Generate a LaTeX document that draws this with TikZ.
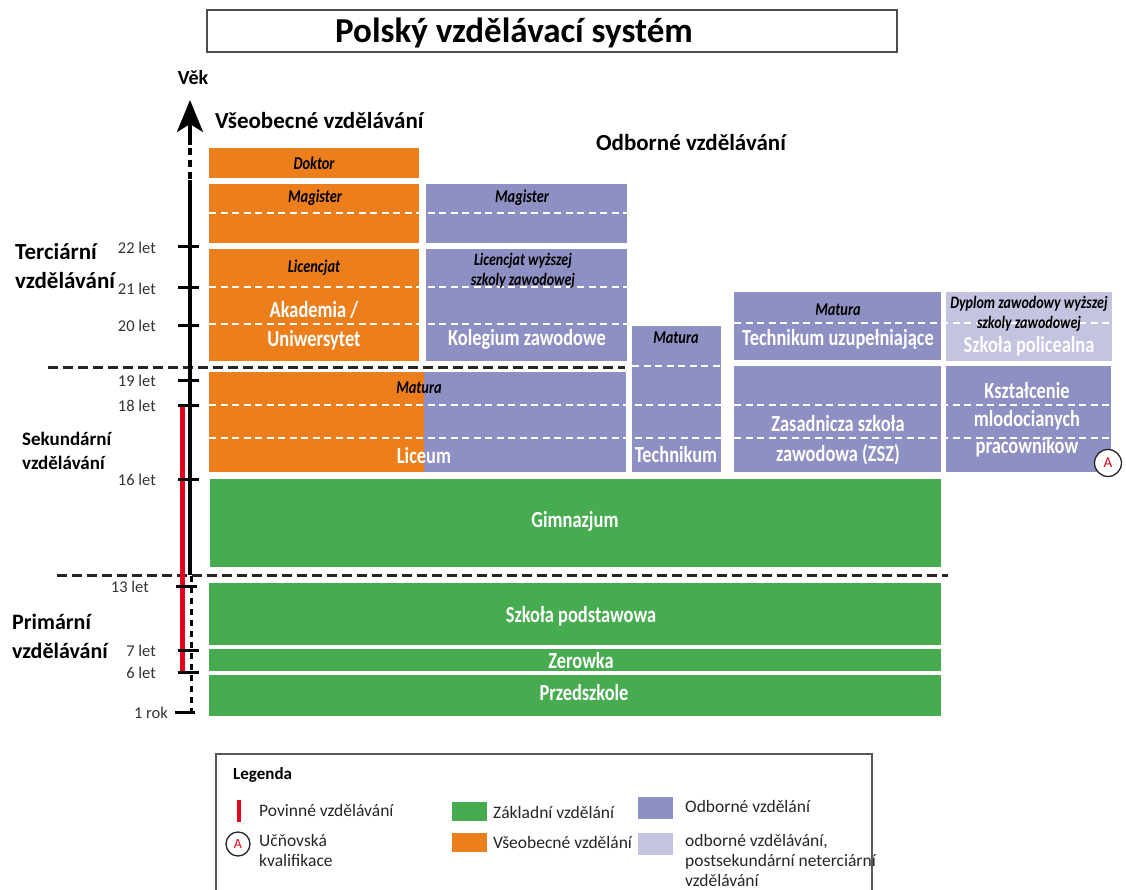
\documentclass[tikz,border=0pt]{standalone}
\usepackage{fontspec}
\setmainfont{Carlito}
\newfontfamily\cond[FakeStretch=0.8]{Carlito}
\newfontfamily\condi[FakeStretch=0.8]{Carlito}
\usetikzlibrary{arrows.meta}
\definecolor{ora}{RGB}{236,127,28}
\definecolor{pur}{RGB}{142,143,194}
\definecolor{lpur}{RGB}{196,196,225}
\definecolor{grn}{RGB}{71,171,79}
\definecolor{redc}{RGB}{226,0,26}
\tikzset{
  wl/.style={text=white, font=\cond\bfseries\fontsize{23}{29}\selectfont, align=center, inner sep=0pt},
  bl/.style={text=black, font=\condi\bfseries\itshape\fontsize{18}{20}\selectfont, align=center, inner sep=0pt},
  bls/.style={text=black, font=\condi\bfseries\itshape\fontsize{17.5}{20.5}\selectfont, align=center, inner sep=0pt},
  wdash/.style={white, line width=2.5pt, dash pattern=on 7pt off 4.5pt},
  bdash/.style={black!85, line width=3pt, dash pattern=on 10pt off 5pt},
  tickm/.style={black, line width=3pt},
  age/.style={text=black!80, font=\fontsize{16.5}{18}\selectfont, anchor=east, inner sep=0pt},
  sect/.style={text=black, font=\bfseries\fontsize{23}{29}\selectfont, align=left, anchor=west, inner sep=0pt},
  hdr/.style={text=black, font=\bfseries\fontsize{23}{26}\selectfont, inner sep=0pt},
  leg/.style={text=black!85, font=\fontsize{17.5}{20}\selectfont, align=left, anchor=west, inner sep=0pt},
  circA/.style={circle, draw=black!85, line width=1.3pt, fill=white, text=redc, minimum size=27pt, inner sep=0pt, font=\fontsize{15}{16}\selectfont}
}
\begin{document}
\begin{tikzpicture}[x=1pt,y=-1pt]
\useasboundingbox[fill=white] (0,0) rectangle (1126,890);

% title
\node[draw=black!70, line width=1.5pt, minimum width=690pt, minimum height=42pt, inner sep=0pt] (title) at (552,31) {};
\node[font=\bfseries\fontsize{35}{38}\selectfont, inner sep=0pt] (titletext) at (514,33) {Polský vzdělávací systém};

% headers
\node[hdr, font=\bfseries\fontsize{20}{22}\selectfont] (vek) at (193,78) {Věk};
\node[hdr, anchor=west] (vseob) at (215,121) {Všeobecné vzdělávání};
\node[hdr] (odbor) at (691,143) {Odborné vzdělávání};

% section labels
\node[sect] (terc) at (15,266) {Terciární\\vzdělávání};
\node[sect, font=\bfseries\fontsize{19}{24}\selectfont] (sek) at (22,451) {Sekundární\\vzdělávání};
\node[sect, font=\bfseries\fontsize{22}{29}\selectfont] (prim) at (12,636) {Primární\\vzdělávání};

% ---- boxes ----
\fill[ora] (209,148) rectangle (419,178);
\fill[ora] (209,184) rectangle (419,243);
\fill[pur] (426,184) rectangle (627,243);
\fill[ora] (209,249) rectangle (419,361);
\fill[pur] (426,249) rectangle (627,361);
\fill[pur] (632,326) rectangle (721,472);
\fill[ora] (209,372) rectangle (424,472);
\fill[pur] (424,372) rectangle (626,472);
\fill[pur] (734,292) rectangle (941,360);
\fill[lpur] (946,292) rectangle (1112,361);
\fill[pur] (734,366) rectangle (941,472);
\fill[pur] (946,366) rectangle (1111,472);
\fill[grn] (210,479) rectangle (941,567);
\fill[grn] (209,583) rectangle (941,645);
\fill[grn] (209,649) rectangle (941,671);
\fill[grn] (209,675) rectangle (941,716);

% white dashed lines
\draw[wdash] (209,213) -- (627,213);
\draw[wdash] (209,287) -- (627,287);
\draw[wdash] (209,324) -- (627,324);
\draw[wdash] (632,366) -- (721,366);
\draw[wdash] (209,405) -- (721,405);
\draw[wdash] (209,438) -- (721,438);
\draw[wdash] (734,323) -- (1122,323);
\draw[wdash] (734,405) -- (1112,405);
\draw[wdash] (734,438) -- (1112,438);

% box texts
\node[bl] (doktor) at (314,163) {Doktor};
\node[bl] (magO) at (315,198) {Magister};
\node[bl] (magP) at (522,198) {Magister};
\node[bl] (licO) at (314,268) {Licencjat};
\node[wl] (akad) at (314,326) {Akademia /\\Uniwersytet};
\node[bls] (licP) at (523,271) {Licencjat wyższej\\szkoly zawodowej};
\node[wl] (koleg) at (527,339) {Kolegium zawodowe};
\node[bl] (matT) at (676,338) {Matura};
\node[wl] (techn) at (676,455) {Technikum};
\node[bl] (matL) at (419,388) {Matura};
\node[wl] (liceum) at (424,456) {Liceum};
\node[bl] (matU) at (838,310) {Matura};
\node[wl] (techu) at (838,339) {Technikum uzupełniające};
\node[bls] (dypl) at (1029,314) {Dyplom zawodowy wyższej\\szkoly zawodowej};
\node[wl, text=white!97!lpur] (polic) at (1029,346) {Szkoła policealna};
\node[wl, font=\cond\bfseries\fontsize{23}{30}\selectfont] (zsz) at (838,440) {Zasadnicza szkoła\\zawodowa (ZSZ)};
\node[wl, font=\cond\bfseries\fontsize{23}{27.5}\selectfont] (kszt) at (1027,420) {Kształcenie\\mlodocianych\\pracownikow};
\node[circA] (cA) at (1108,463) {A};
\node[wl] (gimn) at (575,521) {Gimnazjum};
\node[wl] (szp) at (581,616) {Szkoła podstawowa};
\node[wl] (zer) at (581,661) {Zerowka};
\node[wl] (przed) at (584,693) {Przedszkole};

% black dashed separators
\coordinate (s1a) at (48,367);
\coordinate (s1b) at (625,367);
\coordinate (s2a) at (57,575);
\coordinate (s2b) at (948,575);
\draw[bdash] (s1a) -- (s1b);
\draw[bdash] (s2a) -- (s2b);

% compulsory education (red)
\coordinate (r1) at (182.5,405);
\coordinate (r2) at (182.5,672);
\draw[redc, line width=5pt] (r1) -- (r2);

% axis
\coordinate (axTop) at (190,100);
\coordinate (axA) at (190,145);
\coordinate (axB) at (190,180);
\coordinate (axC) at (190,575);
\coordinate (axD) at (191,576);
\coordinate (axE) at (191,712);
\draw[line width=4pt, -{Stealth[length=32pt,width=26pt,inset=8pt]}] (axA) -- (axTop);
\draw[line width=4pt, dash pattern=on 7pt off 5pt] (190,148) -- (axB);
\draw[line width=4pt] (axB) -- (axC);
\draw[line width=3pt, dash pattern=on 6pt off 5pt] (axD) -- (axE);

% ticks and age labels
\foreach \yy/\lab/\nm in {247/22 let/a22, 288/21 let/a21, 325/20 let/a20, 380/19 let/a19, 405/18 let/a18, 479/16 let/a16, 650/7 let/a7, 672/6 let/a6}{
  \draw[tickm] (178,\yy) -- (199,\yy);
  \node[age] (\nm) at (156,\yy+1) {\lab};
}
\draw[tickm] (176,586) -- (197,586);
\node[age] (a13) at (149,587) {13 let};
\draw[tickm] (175,712) -- (195,712);
\node[age] (a1) at (168,713) {1 rok};

% legend
\draw[black!65, line width=2pt] (216,895) -- (216,754) -- (872,754) -- (872,895);
\node[font=\bfseries\fontsize{17}{18}\selectfont, anchor=west, inner sep=0pt] (legt) at (233,775) {Legenda};
\coordinate (lr1) at (239,800);
\coordinate (lr2) at (239,822);
\draw[redc, line width=4.5pt] (lr1) -- (lr2);
\node[leg] (lg1) at (259,810) {Povinné vzdělávání};
\node[circA, minimum size=24pt, font=\fontsize{14}{15}\selectfont] (lgA) at (238,844) {A};
\node[leg, align=left, anchor=north west] (lg2) at (259,834) {Učňovská\\kvalifikace};
\fill[grn] (452,802) rectangle (487,821);
\node[leg] (lg3) at (493,812) {Základní vzdělání};
\fill[ora] (452,833) rectangle (487,852);
\node[leg] (lg4) at (493,842) {Všeobecné vzdělání};
\fill[pur] (638,797) rectangle (673,819);
\node[leg] (lg5) at (685,806) {Odborné vzdělání};
\fill[lpur] (638,833) rectangle (673,855);
\node[leg, anchor=north west, font=\fontsize{17.5}{20}\selectfont] (lg6) at (685,834) {odborné vzdělávání,\\postsekundární neterciární\\vzdělávání};
\end{tikzpicture}
\end{document}
